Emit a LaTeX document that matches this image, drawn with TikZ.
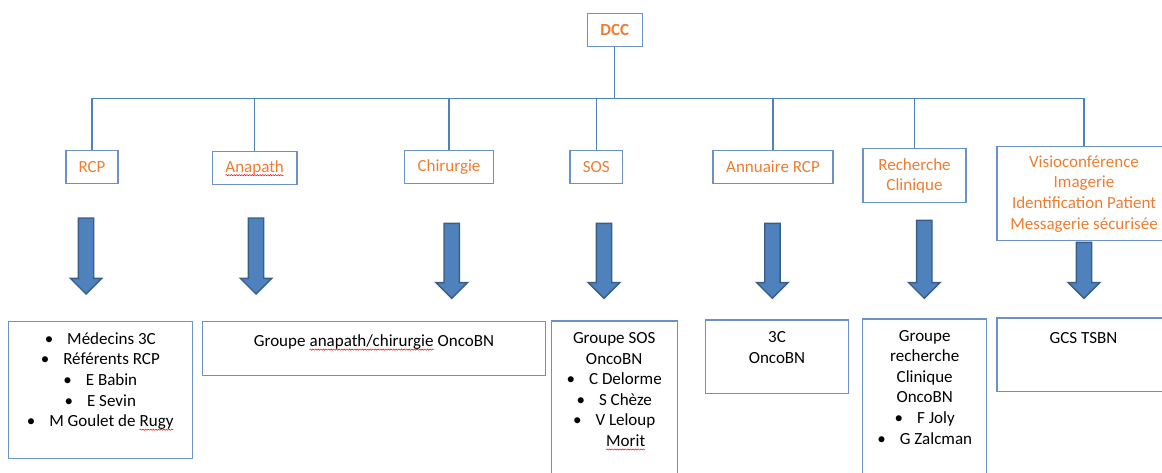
\documentclass[tikz,border=0pt]{standalone}
\usepackage{fontspec}
\setmainfont{Carlito}
\usetikzlibrary{shapes.arrows,decorations.pathmorphing}

\definecolor{dccorange}{HTML}{ED7D31}
\definecolor{lineblue}{HTML}{4F81BD}
\definecolor{boxblue}{HTML}{6A92C8}
\definecolor{arrowedge}{HTML}{385D8A}

% wavy red underline (spell check marks)
\newcommand{\spell}[1]{\tikz[baseline=(sp.base)]{\node[inner sep=0pt, outer sep=0pt, draw=none, fill=none,
    minimum width=0pt, minimum height=0pt, anchor=base, text width={}, rotate=0,
    execute at begin node={}] (sp) at (0,0) {#1};
  \draw[red, line width=0.5pt, decorate, decoration={snake, amplitude=0.6pt, segment length=2.6pt}]
    ([yshift=-3pt]sp.base west) -- ([yshift=-3pt]sp.base east);}}

\tikzset{
  topbox/.style={draw=boxblue, line width=1.1pt, text=dccorange, align=center,
    font=\fontsize{17}{20.6}\selectfont, inner sep=0pt},
  grpbox/.style={draw=boxblue, line width=1.1pt, inner sep=0pt},
  grptext/.style={anchor=north, align=center, inner sep=0pt,
    font=\fontsize{17}{20.6}\selectfont, execute at begin node=\strut},
  conn/.style={draw=lineblue, line width=1.1pt},
  bigarrow/.style={single arrow, draw=arrowedge, fill=lineblue, line width=1.4pt,
    rotate=-90, anchor=tip, inner xsep=0pt, inner ysep=7pt,
    minimum width=31pt, single arrow head extend=8pt}
}

\begin{document}
\begin{tikzpicture}[x=1pt,y=-1pt]
    \useasboundingbox (0,0) rectangle (1162,473);

    % Top of the tree
    \node[topbox, minimum width=55, minimum height=33, font=\fontsize{17}{20.6}\selectfont\bfseries] (dcc) at (614.8,29.8) {DCC};
    \coordinate (bus) at (614.8,98.7);

    % Second level
    \node[topbox, minimum width=52, minimum height=33] (rcp) at (92,167.2) {RCP};
    \node[topbox, minimum width=84.5, minimum height=33] (anapath) at (254.7,168.2) {\spell{Anapath}};
    \node[topbox, minimum width=89, minimum height=33] (chir) at (449,167.2) {Chirurgie};
    \node[topbox, minimum width=52.5, minimum height=33] (sos) at (596.2,167.2) {SOS};
    \node[topbox, minimum width=120, minimum height=33] (annuaire) at (773,167.2) {Annuaire RCP};
    \node[topbox, minimum width=103, minimum height=54.3] (recherche) at (914.5,175.8) {Recherche\\Clinique};
    \node[topbox, minimum width=174, minimum height=94.3] (visio) at (1084,193.8) {Visioconférence\\Imagerie\\Identification Patient\\Messagerie sécurisée};

    % Tree lines
    \draw[conn] (dcc) -- (bus);
    \foreach \n in {rcp,anapath,chir,sos,annuaire,recherche,visio}
        \draw[conn] (bus) -| (\n);

    % Block arrows
    \foreach \n/\x/\tip/\len in {rcp/86/295/76, anapath/256/295/76, chir/451.7/299.3/75,
        sos/604/299.3/75, annuaire/772.4/299.3/75, recherche/924.3/299.3/78, visio/1084/299.3/56}
        \node[bigarrow, minimum height=\len] (arr\n) at (\x,\tip) {};

    % Groups
    \node[grpbox, minimum width=184, minimum height=137.3] (grcp) at (100.3,389.7) {};
    \node[grpbox, minimum width=343.4, minimum height=54.3] (ganapath) at (374,348.2) {};
    \node[grpbox, minimum width=126.3, minimum height=159] (gsos) at (614.2,400.5) {};
    \node[grpbox, minimum width=142.6, minimum height=73.7] (g3c) at (777,356.8) {};
    \node[grpbox, minimum width=124, minimum height=161] (grech) at (924.7,399.5) {};
    \node[grpbox, minimum width=173, minimum height=73.7] (ggcs) at (1083.5,354.8) {};

    % Group members
    \node[grptext] (trcp) at ([yshift=-11.8pt]grcp.north) {•\hspace{14pt}Médecins 3C\\•\hspace{14pt}Référents RCP\\•\hspace{14pt}E Babin\\•\hspace{14pt}E Sevin\\•\hspace{14pt}M Goulet de \spell{Rugy}};
    \node[grptext] (tanapath) at ([yshift=-11.5pt]ganapath.north) {Groupe \spell{anapath/chirurgie} OncoBN};
    \node[grptext] (tsos) at ([yshift=-11.8pt]gsos.north) {Groupe SOS\\OncoBN\\•\hspace{14pt}C Delorme\\•\hspace{14pt}S Chèze\\•\hspace{14pt}V Leloup\\\hspace*{23pt}\spell{Morit}};
    \node[grptext] (t3c) at ([yshift=-11.8pt]g3c.north) {3C\\OncoBN};
    \node[grptext] (trech) at ([yshift=-11.5pt]grech.north) {Groupe\\recherche\\Clinique\\OncoBN\\•\hspace{14pt}F Joly\\•\hspace{14pt}G Zalcman};
    \node[grptext] (tgcs) at ([yshift=-11.5pt]ggcs.north) {GCS TSBN};
\end{tikzpicture}
\end{document}
